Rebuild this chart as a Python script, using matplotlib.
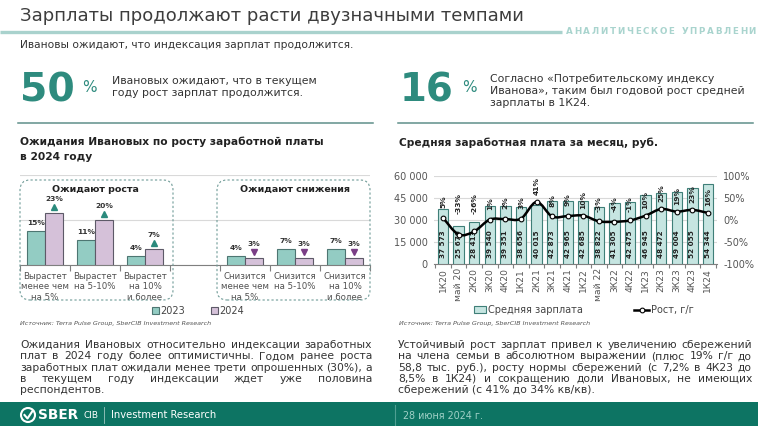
import matplotlib
matplotlib.use("Agg")
import matplotlib.pyplot as plt
import numpy as np
from matplotlib.patches import FancyBboxPatch, Rectangle, PathPatch, Circle
from matplotlib.path import Path
from matplotlib.lines import Line2D
from matplotlib.transforms import ScaledTranslation
from matplotlib.ticker import FuncFormatter

plt.rcParams['font.family'] = ['DejaVu Sans']

# ---------------- data ----------------
exp_groups = ["Ожидают роста", "Ожидают снижения"]
exp_categories = ["Вырастет\nменее чем\nна 5%", "Вырастет\nна 5-10%", "Вырастет\nна 10%\nи более",
                  "Снизится\nменее чем\nна 5%", "Снизится\nна 5-10%", "Снизится\nна 10%\nи более"]
exp_years = ["2023", "2024"]
exp_2023 = [15, 11, 4, 4, 7, 7]
exp_2024 = [23, 20, 7, 3, 3, 3]

wage_periods = ["1К20", "май 20", "2К20", "3К20", "4К20", "1К21", "2К21", "3К21", "4К21",
                "1К22", "май 22", "3К22", "4К22", "1К23", "2К23", "3К23", "4К23", "1К24"]
wage_values = [37573, 25670, 28413, 39540, 39351, 38656, 40015, 42873, 42965,
               42685, 38822, 41305, 42475, 46945, 48472, 49004, 52055, 54344]
wage_growth = [5, -33, -26, 1, 2, 3, 41, 8, 9, 10, -3, -4, -1, 10, 25, 19, 23, 16]
wage_ticks = [0, 15000, 30000, 45000, 60000]
growth_ticks = [-100, -50, 0, 50, 100]

# ---------------- figure helpers ----------------
W, H = 758, 426
fig = plt.figure(figsize=(W / 100, H / 100), dpi=100)
fig.patch.set_facecolor('white')
R = fig.canvas.get_renderer()
FT = fig.dpi_scale_trans

TEAL = '#2e8b7e'
DARK = '#333333'


def P(x, y):
    return (x / 100, (H - y) / 100)


def T(x, y, s, **kw):
    kw.setdefault('va', 'center')
    return fig.text(x / 100, (H - y) / 100, s, transform=FT, **kw)


def width_of(s, **kw):
    t = fig.text(0, 0, s, transform=FT, **kw)
    w = t.get_window_extent(R).width
    t.remove()
    return w


def fit_size(s, target, **kw):
    w = max(width_of(line, fontsize=10, **kw) for line in s.split('\n'))
    return 10 * target / w


def fit(x, y, s, target, **kw):
    fs = fit_size(s, target, **kw)
    return T(x, y, s, fontsize=fs, **kw)


def hline(x0, x1, y, **kw):
    fig.add_artist(Line2D([x0 / 100, x1 / 100], [(H - y) / 100] * 2, transform=FT, **kw))


def vline(x, y0, y1, **kw):
    fig.add_artist(Line2D([x / 100] * 2, [(H - y0) / 100, (H - y1) / 100], transform=FT, **kw))


# ---------------- header ----------------
fit(20, 16, "Зарплаты продолжают расти двузначными темпами", 507, color='#3d3d3d')
hline(0, 562, 32, color='#a9d2cd', lw=2.4, solid_capstyle='butt')

hdr = "АНАЛИТИЧЕСКОЕ УПРАВЛЕНИ"
hfs = 6.3
hkw = dict(fontsize=hfs, fontweight='bold', color='#a9d4ce')
cw = [width_of(c, **hkw) if c != ' ' else width_of('И', **hkw) * 0.5 for c in hdr]
track = (190 - sum(cw)) / (len(hdr) - 1)
xx = 566
for c, w in zip(hdr, cw):
    if c != ' ':
        T(xx, 32, c, ha='left', **hkw)
    xx += w + track

fit(20, 45, "Ивановы ожидают, что индексация зарплат продолжится.", 332, color=DARK)

# key figures
fit(20, 91, "50", 55, color=TEAL, ha='left', fontweight='bold')
T(82, 87, "%", fontsize=11, color=TEAL, ha='left')
fs_k = fit_size("Иванова», таким был годовой рост средней", 253)
T(112, 81, "Ивановых ожидают, что в текущем", fontsize=fs_k, color=DARK, ha='left')
T(112, 93, "году рост зарплат продолжится.", fontsize=fs_k, color=DARK, ha='left')

fit(400, 91, "16", 54, color=TEAL, ha='left', fontweight='bold')
T(462, 87, "%", fontsize=11, color=TEAL, ha='left')
T(490, 79, "Согласно «Потребительскому индексу", fontsize=fs_k, color=DARK, ha='left')
T(490, 91, "Иванова», таким был годовой рост средней", fontsize=fs_k, color=DARK, ha='left')
T(490, 103, "зарплаты в 1К24.", fontsize=fs_k, color=DARK, ha='left')

hline(18, 373, 123, color='#5f8f8a', lw=1.1)
hline(398, 753, 123, color='#5f8f8a', lw=1.1)

# chart titles
fs_t = fit_size("Ожидания Ивановых по росту заработной платы", 303, fontweight='bold')
T(20, 142, "Ожидания Ивановых по росту заработной платы", fontsize=fs_t, fontweight='bold', color='#222', ha='left')
T(20, 157, "в 2024 году", fontsize=fs_t, fontweight='bold', color='#222', ha='left')
T(399, 143, "Средняя заработная плата за месяц, руб.", fontsize=fs_t, fontweight='bold', color='#222', ha='left')

# ---------------- left chart ----------------
L, Rr, Tp, B = 20, 370, 175, 265
ax1 = fig.add_axes([L / W, 1 - B / H, (Rr - L) / W, (B - Tp) / H])
pos = np.array([0, 1, 2, 4, 5, 6])
bw = 0.36
c23, c24 = '#93ccc3', '#d5c1d9'
b1 = ax1.bar(pos - bw / 2, exp_2023, bw, color=c23, edgecolor='#4d7672', lw=0.8, label=exp_years[0], zorder=3)
b2 = ax1.bar(pos + bw / 2, exp_2024, bw, color=c24, edgecolor='#5d5a68', lw=0.8, label=exp_years[1], zorder=3)
ax1.set_xlim(-0.5, 6.5)
ax1.set_ylim(0, 40)
ax1.set_yticks([0, 20, 40])
ax1.yaxis.grid(True, color='#d9d9d9', lw=0.8)
ax1.set_axisbelow(True)
ax1.tick_params(axis='y', length=0, labelleft=False)
for s in ['top', 'right', 'left']:
    ax1.spines[s].set_visible(False)
ax1.spines['bottom'].set_color('#7f7f7f')
ax1.spines['bottom'].set_linewidth(0.8)
ax1.set_xticks(pos)
ax1.set_xticklabels(exp_categories, fontsize=6.2, color='#505050', linespacing=1.2)
ax1.set_xticks(np.arange(-0.5, 7, 1), minor=True)
ax1.tick_params(axis='x', which='major', length=0, pad=5)
ax1.tick_params(axis='x', which='minor', length=4, color='#7f7f7f', width=0.8)

tri_tr = ax1.transData + ScaledTranslation(0, 6 / 100, FT)
for x, v23, v24 in zip(pos, exp_2023, exp_2024):
    ax1.annotate(f"{v23}%", (x - bw / 2, v23), xytext=(0, 8), textcoords='offset pixels',
                 ha='center', va='center', fontsize=5.4, fontweight='bold', color='#333')
    ax1.annotate(f"{v24}%", (x + bw / 2, v24), xytext=(0, 14.5), textcoords='offset pixels',
                 ha='center', va='center', fontsize=5.4, fontweight='bold', color='#333')
    up = v24 > v23
    ax1.plot([x + bw / 2], [v24], ls='none', marker='^' if up else 'v', ms=4.6,
             color='#2a8a7c' if up else '#7a3e86', transform=tri_tr, clip_on=False)

for gi, g in enumerate(exp_groups):
    xc = L + (1.5 + 4 * gi) * (Rr - L) / 7
    T(xc, 189, g, fontsize=6.8, fontweight='bold', color='#222', ha='center')
    bx = 20 if gi == 0 else 217
    fig.add_artist(FancyBboxPatch(P(bx, 300), 1.53, 1.20, boxstyle='round,pad=0,rounding_size=0.1',
                                  transform=FT, fill=False, ls=(0, (2, 2)), ec='#6f9b97', lw=0.8))

fig.legend([b1, b2], exp_years, loc='center', bbox_to_anchor=P(198, 311), bbox_transform=FT,
           ncol=2, frameon=False, fontsize=7, handlelength=0.75, handleheight=0.75,
           handletextpad=0.15, columnspacing=2.6, labelcolor='#444')

src = "Источник: Terra Pulse Group, SberCIB Investment Research"
fs_s = fit_size(src, 193, style='italic')
T(20, 324, src, fontsize=fs_s, style='italic', color='#555', ha='left')
T(399, 324, src, fontsize=fs_s, style='italic', color='#555', ha='left')

# ---------------- right chart ----------------
L2, R2, T2, B2 = 434, 717, 176, 264
ax2 = fig.add_axes([L2 / W, 1 - B2 / H, (R2 - L2) / W, (B2 - T2) / H])
n = len(wage_values)
xs = np.arange(n)
bars = ax2.bar(xs, wage_values, 0.66, color='#c6e5e1', edgecolor='#3f7f78', lw=0.8, zorder=3)
ax2.set_xlim(-0.58, n - 0.42)
ax2.set_ylim(0, 60000)
ax2.set_yticks(wage_ticks)
ax2.yaxis.set_major_formatter(FuncFormatter(lambda v, p: f"{int(v):,}".replace(',', ' ')))
ax2.yaxis.grid(True, color='#d9d9d9', lw=0.8)
ax2.set_axisbelow(True)
ax2.tick_params(axis='y', length=0, pad=4.5, labelsize=7, labelcolor='#555')
for s in ['top', 'right', 'left']:
    ax2.spines[s].set_visible(False)
ax2.spines['bottom'].set_color('#7f7f7f')
ax2.spines['bottom'].set_linewidth(0.8)
ax2.set_xticks(xs)
ax2.set_xticklabels(wage_periods, rotation=90, fontsize=6.6, color='#555')
ax2.set_xticks(np.arange(-0.5, n, 1), minor=True)
ax2.tick_params(axis='x', which='major', length=0, pad=3)
ax2.tick_params(axis='x', which='minor', length=3, color='#7f7f7f', width=0.8)
for x, v in zip(xs, wage_values):
    ax2.text(x, 3800, f"{v:,}".replace(',', ' '), rotation=90, ha='center', va='bottom',
             fontsize=5.2, fontweight='bold', color='#222', zorder=4)

ax2r = ax2.twinx()
ax2r.set_ylim(-100, 100)
ax2r.set_yticks(growth_ticks)
ax2r.set_yticklabels([f"{v}%" for v in growth_ticks])
ax2r.tick_params(axis='y', length=0, pad=4.5, labelsize=7, labelcolor='#555')
for s in ax2r.spines.values():
    s.set_visible(False)

gy = np.array(wage_growth, float)
pts = np.column_stack([xs, gy])
ext = np.vstack([pts[0], pts, pts[-1]])
verts = [pts[0]]
codes = [Path.MOVETO]
for i in range(n - 1):
    p0, p1, p2, p3 = ext[i], ext[i + 1], ext[i + 2], ext[i + 3]
    verts += [p1 + (p2 - p0) / 6, p2 - (p3 - p1) / 6, p2]
    codes += [Path.CURVE4] * 3
ax2r.add_patch(PathPatch(Path(verts, codes), fill=False, ec='black', lw=1.8, zorder=5))
ax2r.plot(xs, gy, ls='none', marker='o', ms=3.4, mfc='white', mec='black', mew=0.8, zorder=6)
for x, g in zip(xs, wage_growth):
    ax2r.annotate(f"{g}%", (x, max(g, 0)), xytext=(0, 16), textcoords='offset pixels',
                  rotation=90, ha='center', va='center', fontsize=5.4, fontweight='bold', color='#222')

h_line = Line2D([], [], color='black', lw=1.8, marker='o', ms=3.4, mfc='white', mec='black', mew=0.8)
fig.legend([bars], ["Средняя зарплата"], loc='center left', bbox_to_anchor=P(465, 310), bbox_transform=FT,
           frameon=False, fontsize=7, handlelength=1.3, handleheight=0.7, handletextpad=0.2, labelcolor='#444')
fig.legend([h_line], ["Рост, г/г"], loc='center left', bbox_to_anchor=P(625, 310), bbox_transform=FT,
           frameon=False, fontsize=7, handlelength=1.6, handletextpad=0.2, labelcolor='#444')

# ---------------- body text ----------------
left_lines = ["Ожидания Ивановых относительно индексации заработных",
              "плат в 2024 году более оптимистичны. Годом ранее роста",
              "заработных плат ожидали менее трети опрошенных (30%), а",
              "в текущем году индексации ждет уже половина",
              "респондентов."]
right_lines = ["Устойчивый рост зарплат привел к увеличению сбережений",
               "на члена семьи в абсолютном выражении (плюс 19% г/г до",
               "58,8 тыс. руб.), росту нормы сбережений (с 7,2% в 4К23 до",
               "8,5% в 1К24) и сокращению доли Ивановых, не имеющих",
               "сбережений (с 41% до 34% кв/кв)."]
fs_b = min(fit_size(l, 352) for l in left_lines[:4] + right_lines[:4])


def justify(x0, x1, y0, lines, dy, fs, **kw):
    for k, line in enumerate(lines):
        y = y0 + k * dy
        words = line.split(' ')
        if k == len(lines) - 1 or len(words) == 1:
            T(x0, y, line, fontsize=fs, ha='left', **kw)
            continue
        ws = [width_of(w, fontsize=fs, **kw) for w in words]
        gap = (x1 - x0 - sum(ws)) / (len(words) - 1)
        x = x0
        for w, wd in zip(words, ws):
            T(x, y, w, fontsize=fs, ha='left', **kw)
            x += wd + gap


justify(20, 372, 345, left_lines, 11.3, fs_b, color=DARK)
justify(398, 752, 345, right_lines, 11.3, fs_b, color=DARK)

# ---------------- footer ----------------
fig.add_artist(Rectangle((0, 0), W / 100, (H - 402) / 100, transform=FT, fc='#0d7463', ec='none'))
fig.add_artist(Circle(P(28, 415), 0.07, transform=FT, fill=False, ec='white', lw=1.5))
fig.add_artist(Line2D([0.245, 0.275, 0.325], [(H - 415) / 100, (H - 418.5) / 100, (H - 411) / 100],
                      transform=FT, color='white', lw=1.5))
fit(38, 415, "SBER", 40, fontweight='bold', color='white', ha='left')
fit(83, 416, "CIB", 15, color='white', ha='left')
vline(104, 407, 423, color='white', lw=0.6, alpha=0.6)
fit(111, 415, "Investment Research", 105, color='white', ha='left')
vline(395, 405, 426, color='#4f9f92', lw=0.8)
fit(403, 416, "28 июня 2024 г.", 80, color='#9fd0c6', ha='left')

fig.savefig("out.png", dpi=100, facecolor='white')
